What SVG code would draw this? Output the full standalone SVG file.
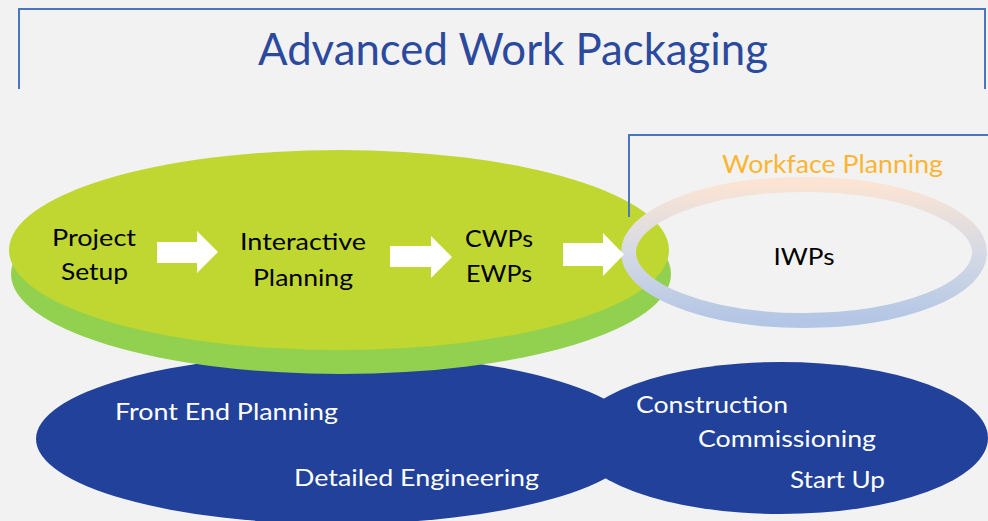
<svg xmlns="http://www.w3.org/2000/svg" width="988" height="521" viewBox="0 0 988 521">
<defs>
<linearGradient id="ringGrad" x1="0" y1="0" x2="0" y2="1">
<stop offset="0" stop-color="#fbe4d4"/>
<stop offset="0.5" stop-color="#d5dae4"/>
<stop offset="1" stop-color="#b3c6e5"/>
</linearGradient>
<style>
.bracket{fill:none;stroke:#4a76bf;stroke-width:2}
.dark{font-family:Lato,"Liberation Sans",sans-serif;font-size:23px;fill:#000}
.light{font-family:Lato,"Liberation Sans",sans-serif;font-size:24px;fill:#fff}
.blue{fill:#21419a}
.arrow{fill:#fff}
</style>
</defs>
<rect width="988" height="521" fill="#f2f2f2"/>
<g id="title">
<polyline class="bracket" points="19,89 19,9 985,9 985,89"/>
<text x="258" y="65" textLength="510" lengthAdjust="spacingAndGlyphs" style="font-family:Lato,'Liberation Sans',sans-serif;font-size:44px;fill:#2b4a9e">Advanced Work Packaging</text>
</g>
<g id="front-end">
<ellipse class="blue" cx="338" cy="439" rx="302" ry="85"/>
</g>
<g id="construction">
<ellipse class="blue" cx="781" cy="438" rx="207" ry="76"/>
</g>
<g id="front-end-labels">
<text class="light" x="115" y="420" textLength="223" lengthAdjust="spacingAndGlyphs">Front End Planning</text>
<text class="light" x="294" y="486" textLength="245" lengthAdjust="spacingAndGlyphs">Detailed Engineering</text>
</g>
<g id="construction-labels">
<text class="light" x="636" y="413" textLength="152" lengthAdjust="spacingAndGlyphs">Construction</text>
<text class="light" x="698" y="447" textLength="178" lengthAdjust="spacingAndGlyphs">Commissioning</text>
<text class="light" x="790" y="488" textLength="95" lengthAdjust="spacingAndGlyphs">Start Up</text>
</g>
<g id="planning-disc">
<ellipse cx="341" cy="274" rx="330" ry="100" fill="#92d050"/>
<ellipse cx="339" cy="250" rx="330" ry="100" fill="#c0d731"/>
</g>
<g id="project-setup">
<text class="dark" x="52" y="246" textLength="84" lengthAdjust="spacingAndGlyphs">Project</text>
<text class="dark" x="61" y="280" textLength="67" lengthAdjust="spacingAndGlyphs">Setup</text>
</g>
<g id="interactive-planning">
<text class="dark" x="240" y="250" textLength="126" lengthAdjust="spacingAndGlyphs">Interactive</text>
<text class="dark" x="253" y="286" textLength="100" lengthAdjust="spacingAndGlyphs">Planning</text>
</g>
<g id="cwps-ewps">
<text class="dark" x="465" y="247" textLength="68" lengthAdjust="spacingAndGlyphs">CWPs</text>
<text class="dark" x="466" y="282" textLength="66" lengthAdjust="spacingAndGlyphs">EWPs</text>
</g>
<g id="iwps">
<ellipse cx="804" cy="252.5" rx="175.5" ry="68" fill="none" stroke="url(#ringGrad)" stroke-width="15"/>
<text x="804" y="265" text-anchor="middle" textLength="61" lengthAdjust="spacingAndGlyphs" style="font-family:Lato,'Liberation Sans',sans-serif;font-size:24px;fill:#000">IWPs</text>
</g>
<g id="workface-planning">
<polyline class="bracket" points="629,217 629,135 988,135"/>
<text x="722" y="173" textLength="221" lengthAdjust="spacingAndGlyphs" style="font-family:Lato,'Liberation Sans',sans-serif;font-size:25px;fill:#fbb532">Workface Planning</text>
</g>
<g id="connectors">
<polygon class="arrow" points="157,242 197,242 197,231 218,252 197,273 197,263 157,263"/>
<polygon class="arrow" points="390,246 431,246 431,236 452,257 431,278 431,267 390,267"/>
<polygon class="arrow" points="563,243 603,243 603,233 624,254.5 603,276 603,266 563,266"/>
</g>
</svg>
